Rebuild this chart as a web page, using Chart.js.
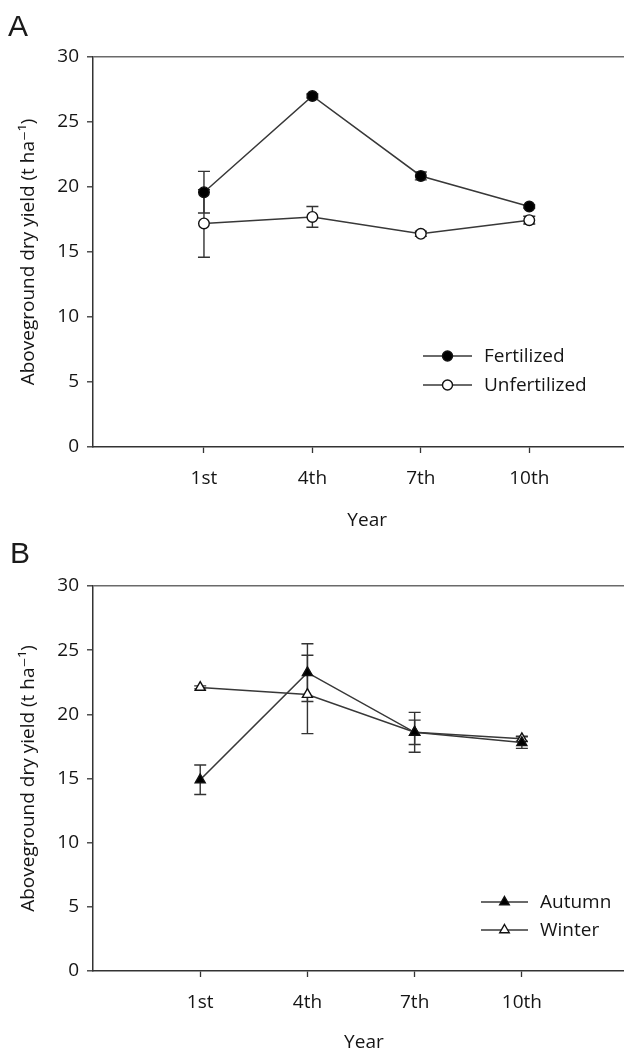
<!DOCTYPE html>
<html><head><meta charset="utf-8">
<script src="https://cdn.jsdelivr.net/npm/chart.js@4.4.0/dist/chart.umd.min.js"></script>
<style>
html,body{margin:0;padding:0;background:#fff;}
body{width:624px;height:1049px;position:relative;overflow:hidden;}
.panel{position:absolute;left:0;}
#wa{top:0;height:532px;width:648px;}
#wb{top:530px;height:524px;width:642px;}
.lbl{position:absolute;font-family:"Liberation Sans",Arial,sans-serif;font-size:30px;line-height:30px;color:#1a1a1a;z-index:2;}
</style></head><body>
<div class="panel" id="wa"><canvas id="ca"></canvas></div>
<div class="panel" id="wb"><canvas id="cb"></canvas></div>
<div class="lbl" style="left:8px;top:11px">A</div>
<div class="lbl" style="left:10px;top:538px">B</div>
<script>
const years=[1,4,7,10];
const yearLabels=["1st","4th","7th","10th"];
const yTicks=[0,5,10,15,20,25,30];
const fertilized=[19.6,27.0,20.85,18.5];
const fertilizedErr=[1.6,0.15,0.3,0.12];
const unfertilized=[17.2,17.7,16.4,17.45];
const unfertilizedErr=[2.6,0.8,0.2,0.3];
const autumn=[14.9,23.25,18.6,17.8];
const autumnErr=[1.15,2.25,1.55,0.45];
const winter=[22.1,21.55,18.6,18.1];
const winterErr=[0.12,3.05,0.95,0.2];

const FONT='"Open Sans", "DejaVu Sans", sans-serif';
const TXT='#151515';

const errorBars={id:'errorBars',beforeDatasetsDraw(chart){
  const {ctx,scales:{x,y}}=chart;
  ctx.save();ctx.strokeStyle='#333';ctx.lineWidth=1.4;
  chart.data.datasets.forEach((ds,di)=>{
    ds.data.forEach((p,i)=>{
      const e=ds.errors[i];if(!e)return;
      const px=x.getPixelForValue(p.x),t=y.getPixelForValue(p.y+e),b=y.getPixelForValue(p.y-e);
      ctx.beginPath();
      ctx.moveTo(px,t);ctx.lineTo(px,b);
      ctx.moveTo(px-6,t);ctx.lineTo(px+6,t);
      ctx.moveTo(px-6,b);ctx.lineTo(px+6,b);
      ctx.stroke();
    });
  });
  ctx.restore();
}};

const customLegend={id:'customLegend',afterDraw(chart,args,o){
  const ctx=chart.ctx;ctx.save();
  chart.data.datasets.forEach((ds,i)=>{
    const yy=o.y+i*o.gap;
    ctx.strokeStyle=ds.borderColor;ctx.lineWidth=ds.borderWidth;
    ctx.beginPath();ctx.moveTo(o.x,yy);ctx.lineTo(o.x+o.len,yy);ctx.stroke();
    ctx.fillStyle=ds.pointBackgroundColor;ctx.strokeStyle=ds.pointBorderColor;ctx.lineWidth=ds.pointBorderWidth;
    Chart.helpers.drawPoint(ctx,{pointStyle:ds.pointStyle,radius:o.r,borderWidth:ds.pointBorderWidth,rotation:0},o.x+o.len/2,yy);
    ctx.fillStyle=TXT;ctx.font='19px '+FONT;ctx.textBaseline='middle';ctx.textAlign='left';
    ctx.fillText(ds.label,o.x+o.len+12,yy+1);
  });
  ctx.restore();
}};

function ds(label,vals,errs,style,fill,r){
  return {label,data:years.map((v,i)=>({x:v,y:vals[i]})),errors:errs,
    borderColor:'#383838',borderWidth:1.5,pointStyle:style,pointRadius:r,pointHoverRadius:r,
    pointBackgroundColor:fill,pointBorderColor:'#111',pointBorderWidth:1.4,tension:0,fill:false};
}

function makeChart(id,datasets,o){
  return new Chart(document.getElementById(id),{
    type:'line',
    data:{datasets},
    plugins:[errorBars,customLegend],
    options:{
      responsive:true,maintainAspectRatio:false,animation:false,
      layout:{padding:{top:o.top,left:0,right:0,bottom:0}},
      plugins:{legend:{display:false},tooltip:{enabled:false},customLegend:o.legend},
      scales:{
        x:{type:'linear',min:o.xmin,max:o.xmax,
          afterBuildTicks:s=>{s.ticks=years.map(v=>({value:v}));},
          afterFit:s=>{s.height=o.xh;},
          ticks:{callback:v=>{const k=years.indexOf(v);return k>=0?yearLabels[k]:'';},font:{family:FONT,size:19},color:TXT,padding:14,autoSkip:false,maxRotation:0},
          grid:{drawOnChartArea:false,tickLength:6,tickColor:'#333',tickWidth:1.3},
          border:{color:'#333',width:1.5},
          title:{display:true,text:'Year',font:{family:FONT,size:19},color:TXT,padding:{top:0,bottom:0}}
        },
        y:{min:0,max:30,
          afterBuildTicks:s=>{s.ticks=yTicks.map(v=>({value:v}));},
          afterFit:s=>{s.width=93;},
          ticks:{font:{family:FONT,size:19},color:TXT,padding:8},
          grid:{color:c=>(c.tick&&c.tick.value===30)?'#6a6a6a':'rgba(0,0,0,0)',lineWidth:1.6,tickLength:6,tickColor:'#333',tickWidth:1.3},
          border:{color:'#333',width:1.5},
          title:{display:true,text:'Aboveground dry yield (t ha⁻¹)',font:{family:FONT,size:19},color:TXT,padding:{top:17,bottom:0}}
        }
      }
    }
  });
}

makeChart('ca',[
  ds('Fertilized',fertilized,fertilizedErr,'circle','#000',5.3),
  ds('Unfertilized',unfertilized,unfertilizedErr,'circle','#fff',5.3)
],{top:57,xh:85,xmin:-2.07,xmax:13.1,legend:{x:423,len:49,y:356,gap:29,r:5}});

makeChart('cb',[
  ds('Autumn',autumn,autumnErr,'triangle','#000',5.8),
  ds('Winter',winter,winterErr,'triangle','#fff',5.8)
],{top:56,xh:83,xmin:-2,xmax:13.16,legend:{x:481,len:47,y:372,gap:28,r:5.5}});
</script>
</body></html>
